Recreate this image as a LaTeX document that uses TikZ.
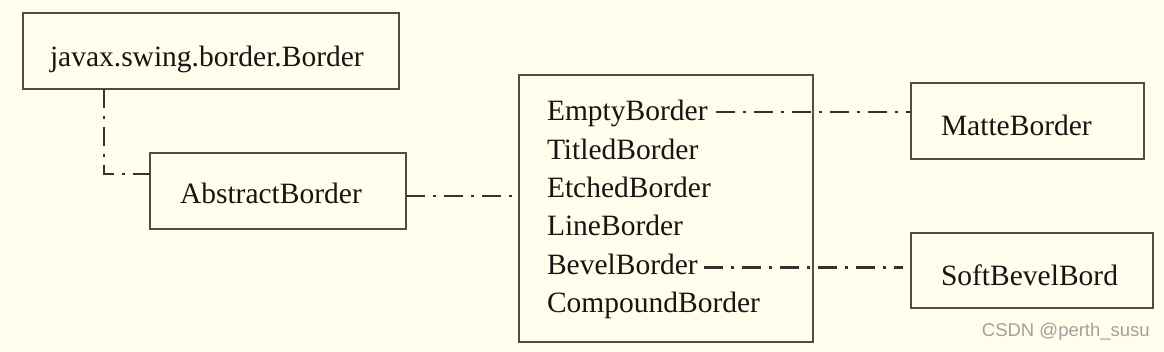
\documentclass[tikz,border=0pt]{standalone}
\usepackage{fontspec}
\setmainfont{Liberation Serif}
\newfontfamily\wmfont{Liberation Sans}
\usetikzlibrary{calc}
\definecolor{bg}{RGB}{255,254,236}
\definecolor{boxline}{RGB}{80,76,70}
\definecolor{connline}{RGB}{55,50,45}
\definecolor{txt}{RGB}{25,20,20}
\definecolor{wm}{RGB}{160,160,160}
\tikzset{
  box/.style={draw=boxline, line width=2pt, fill=none, inner sep=0pt, outer sep=0pt},
  lbl/.style={anchor=base west, inner sep=0pt, outer sep=0pt, text=txt, font=\fontsize{29.5}{31}\selectfont},
  conn/.style={draw=connline, line width=2.8pt, dash pattern=on 19pt off 8pt on 3pt off 8pt},
}
\begin{document}
\begin{tikzpicture}[x=1pt,y=-1pt]
\fill[bg] (0,0) rectangle (1164,352);
\useasboundingbox (0,0) rectangle (1164,352);
% boxes
\node[box, minimum width=376pt, minimum height=76pt] (j) at (211,51) {};
\node[box, minimum width=256pt, minimum height=76pt] (a) at (278,191) {};
\node[box, minimum width=294pt, minimum height=267pt] (l) at (666,208.5) {};
\node[box, minimum width=233pt, minimum height=76pt] (m) at (1027.5,121) {};
\node[box, minimum width=242pt, minimum height=75pt] (s) at (1032,270.5) {};
% labels
\node[lbl] (jt) at (50,67) {javax.swing.border.Border};
\node[lbl] (at) at (180,204) {AbstractBorder};
\node[lbl] (e1) at (547,121) {EmptyBorder};
\node[lbl] (e2) at (547,159.3) {TitledBorder};
\node[lbl] (e3) at (547,197.6) {EtchedBorder};
\node[lbl] (e4) at (547,235.9) {LineBorder};
\node[lbl] (e5) at (547,274.2) {BevelBorder};
\node[lbl] (e6) at (547,312.5) {CompoundBorder};
\node[lbl] (mt) at (941,136) {MatteBorder};
\node[lbl] (st) at (941,286) {SoftBevelBord};
\node[anchor=base east, inner sep=0pt, text=wm, font=\wmfont\fontsize{18.5}{20}\selectfont] (wmk) at (1150,337) {CSDN @perth\_susu};
% connector end points
\coordinate (e1r) at ($(e1.base east)+(8,-9)$);
\coordinate (e5r) at ($(e5.base east)+(6,-7)$);
\coordinate (e5end) at ($(e5r -| s.west)+(-8,0)$);
% connectors
\draw[conn] ([xshift=81pt]j.south west) |- ([yshift=-21pt]a.north west);
\draw[conn] ([yshift=-5pt]a.east) -- ([yshift=-5pt]a.east -| l.west);
\draw[conn] (e1r) -- (e1r -| m.west);
\draw[conn] (e5r) -- (e5end);
\end{tikzpicture}
\end{document}
